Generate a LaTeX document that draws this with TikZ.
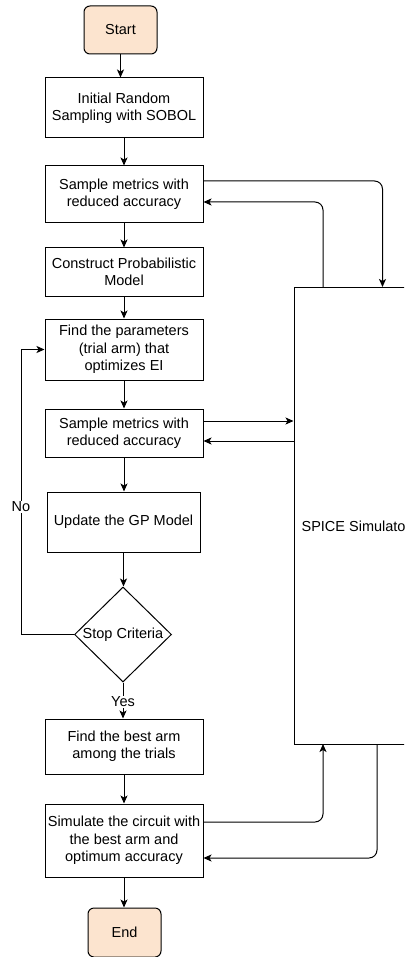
\documentclass[tikz,border=0pt]{standalone}
\usepackage{fontspec}
\setmainfont{Liberation Sans}
\usetikzlibrary{arrows.meta,shapes.geometric}
\definecolor{termfill}{HTML}{FCE4CF}
\begin{document}
\begin{tikzpicture}[x=1pt,y=-1pt,
  every node/.style={font=\fontsize{14.5}{17.4}\selectfont, text=black},
  box/.style={draw=black, line width=1pt, fill=white, align=center, inner sep=0pt, minimum width=158pt},
  term/.style={draw=black, line width=1pt, rounded corners=6pt, fill=termfill, inner sep=0pt, minimum width=73pt, minimum height=48pt},
  decision/.style={draw=black, line width=1pt, diamond, fill=white, inner sep=0pt, minimum width=97pt, minimum height=95pt},
  simbox/.style={draw=black, line width=1pt, fill=white, inner sep=0pt, minimum width=124pt, minimum height=457pt},
  conn/.style={draw=black, line width=1pt, -{Stealth[length=8pt,width=7pt,inset=2pt]}},
  plain/.style={draw=black, line width=1pt},
  edgelbl/.style={fill=white, inner sep=1pt}
]
\useasboundingbox (0,0) rectangle (404,957);
\clip (0,0) rectangle (404,957);

% nodes
\node[term] (start) at (120.5,30) {Start};
\node[box, minimum height=60pt] (init) at (124,108) {Initial Random\\Sampling with SOBOL};
\node[box, minimum height=57pt] (samp1) at (124,194.5) {Sample metrics with\\reduced accuracy};
\node[box, minimum height=48pt] (cons) at (124,272) {Construct Probabilistic\\Model};
\node[box, minimum height=61pt] (find) at (124,349.5) {Find the parameters\\(trial arm) that\\optimizes EI};
\node[box, minimum height=48pt] (samp2) at (124,433) {Sample metrics with\\reduced accuracy};
\node[box, minimum width=153pt, minimum height=60pt] (upd) at (123.5,522) {Update the GP Model};
\node[decision] (stop) at (123,634.5) {Stop Criteria};
\node[box, minimum height=55pt] (best) at (124,746.5) {Find the best arm\\among the trials};
\node[box, minimum height=73pt] (sim) at (124,840.5) {Simulate the circuit with\\the best arm and\\optimum accuracy};
\node[term, minimum height=49pt] (end) at (124.5,932.5) {End};
\node[simbox] (spice) at (356,515.5) {};
\node (spicelbl) at (356,526) {SPICE Simulator};

% helper coordinates
\coordinate (s1in) at (382.5,287);
\coordinate (s1out) at (323,287);
\coordinate (simin) at (323,744);
\coordinate (simout) at (377,744);
\coordinate (nocorner) at (21,634.5);

% main flow
\draw[conn] (start.south) -- (start.south |- init.north);
\draw[conn] (init) -- (samp1);
\draw[conn] (samp1) -- (cons);
\draw[conn] (cons) -- (find);
\draw[conn] (find) -- (samp2);
\draw[conn] (samp2) -- (samp2 |- upd.north);
\draw[conn] (upd) -- (upd |- stop.north);
\draw[conn] (stop.south) -- (stop.south |- best.north);
\draw[conn] (best) -- (sim);
\draw[conn] (sim) -- (sim |- end.north);

% loop back
\draw[conn] (stop.west) -- (nocorner) |- (find.west);
\node[edgelbl] (nolbl) at (21,507) {No};
\node[edgelbl] (yeslbl) at (123,702) {Yes};

% simulator connections
\draw[conn, rounded corners=8pt] ([yshift=13.5pt]samp1.east) -| (s1in);
\draw[conn, rounded corners=8pt] (s1out) |- ([yshift=-7.5pt]samp1.east);
\draw[conn] ([yshift=12pt]samp2.east) -- ([yshift=12pt]samp2.east -| spice.west);
\draw[conn] ([yshift=-8pt]samp2.east -| spice.west) -- ([yshift=-8pt]samp2.east);
\draw[conn, rounded corners=8pt] ([yshift=18.5pt]sim.east) -| (simin);
\draw[conn, rounded corners=8pt] (simout) |- ([yshift=-17.5pt]sim.east);
\end{tikzpicture}
\end{document}
